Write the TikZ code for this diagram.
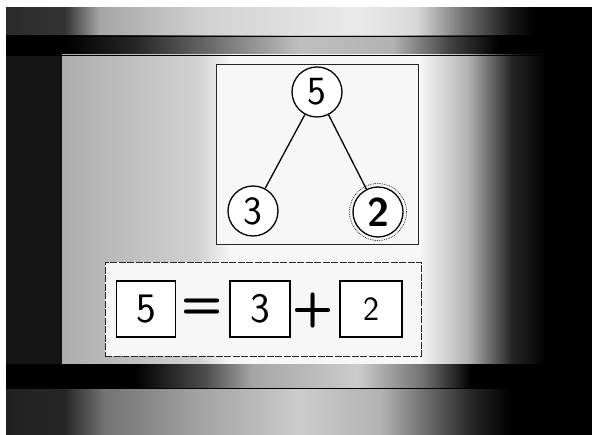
\documentclass[tikz,border=0pt]{standalone}
\usepackage{fontspec}
\usetikzlibrary{positioning}

% photo background bands
\pgfdeclarehorizontalshading{topStrip}{100bp}{color(0bp)=(black); color(30bp)=(black!80); color(33bp)=(black!35); color(42bp)=(black!18); color(55bp)=(black!8); color(60bp)=(black!15); color(64bp)=(black!55); color(68bp)=(black!90); color(70bp)=(black); color(100bp)=(black)}
\pgfdeclarehorizontalshading{darkBand}{100bp}{color(0bp)=(black); color(30bp)=(black); color(36bp)=(black!85); color(42bp)=(black!60); color(50bp)=(black!25); color(58bp)=(black!30); color(63bp)=(black!75); color(67bp)=(black); color(100bp)=(black)}
\pgfdeclarehorizontalshading{panelShade}{100bp}{color(0bp)=(black!32); color(25bp)=(black!32); color(39bp)=(black!18); color(42.5bp)=(black!3); color(62bp)=(black!3); color(67bp)=(black!30); color(71.5bp)=(black!85); color(75bp)=(black); color(100bp)=(black)}
\pgfdeclarehorizontalshading{lowBand}{100bp}{color(0bp)=(black); color(36bp)=(black); color(42bp)=(black!70); color(46bp)=(black!35); color(55bp)=(black!20); color(60.5bp)=(black!55); color(64.7bp)=(black); color(100bp)=(black)}
\pgfdeclarehorizontalshading{bottomStrip}{100bp}{color(0bp)=(black); color(30bp)=(black!85); color(33.4bp)=(black!55); color(42bp)=(black!35); color(50bp)=(black!20); color(57bp)=(black!30); color(64.7bp)=(black!85); color(68bp)=(black); color(100bp)=(black)}

\begin{document}
\begin{tikzpicture}[x=1pt, y=-1pt,
    bondCircle/.style={circle, draw=black, line width=1.3pt, fill=white, minimum size=50pt, inner sep=0pt, font=\sffamily\fontsize{40}{40}\selectfont},
    numBox/.style={rectangle, draw=black, line width=1.2pt, fill=white, minimum width=59pt, minimum height=56pt, inner sep=0pt, font=\sffamily\fontsize{42}{42}\selectfont},
    signText/.style={inner sep=0pt, font=\sffamily\bfseries\fontsize{48}{48}\selectfont},
    panelBox/.style={rectangle, draw=black!85, line width=0.9pt, fill=black!3, inner sep=0pt},
    bondLine/.style={line width=1.3pt, draw=black}
]
    \useasboundingbox (0,0) rectangle (592,435);
    \fill[white] (0,0) rectangle (592,435);
    \shade[shading=topStrip] (6,8) rectangle (592,36);
    \shade[shading=darkBand] (6,36) rectangle (592,55);
    \fill[black!92] (6,55) rectangle (62,365);
    \shade[shading=panelShade] (62,55) rectangle (545,365);
    \fill[black] (545,55) rectangle (592,365);
    \shade[shading=lowBand] (6,365) rectangle (592,390);
    \shade[shading=bottomStrip] (6,390) rectangle (592,435);
    \draw[black, line width=0.8pt] (6,36) -- (592,36);
    \draw[black, line width=0.8pt] (6,55) -- (592,55);
    \draw[black, line width=0.8pt] (6,388) -- (592,388);

    % number bond
    \node[panelBox, minimum width=202pt, minimum height=180pt] (tree) at (317,154) {};
    \node[bondCircle] (five) at (317,92) {5};
    \node[bondCircle] (three) at (253,211) {3};
    \node[bondCircle, font=\sffamily\bfseries\fontsize{40}{40}\selectfont] (two) at (378,212) {2};
    \node[circle, draw=black!80, densely dotted, line width=0.8pt, minimum size=57pt] (twoRing) at (two) {};
    \draw[bondLine] (five) -- (three);
    \draw[bondLine] (five) -- (two);

    % number sentence
    \node[panelBox, dash pattern=on 7pt off 1.5pt, minimum width=316pt, minimum height=94pt] (sentence) at (263,309) {};
    \node[numBox] (whole) at (146,309) {5};
    \node[signText] (equals) at (202,309) {=};
    \node[numBox, minimum width=60pt] (partA) at (260,309) {3};
    \node[signText] (plus) at (313,311) {+};
    \node[numBox, minimum width=62pt, font=\sffamily\fontsize{34}{34}\selectfont] (partB) at (371,309) {2};
\end{tikzpicture}
\end{document}
